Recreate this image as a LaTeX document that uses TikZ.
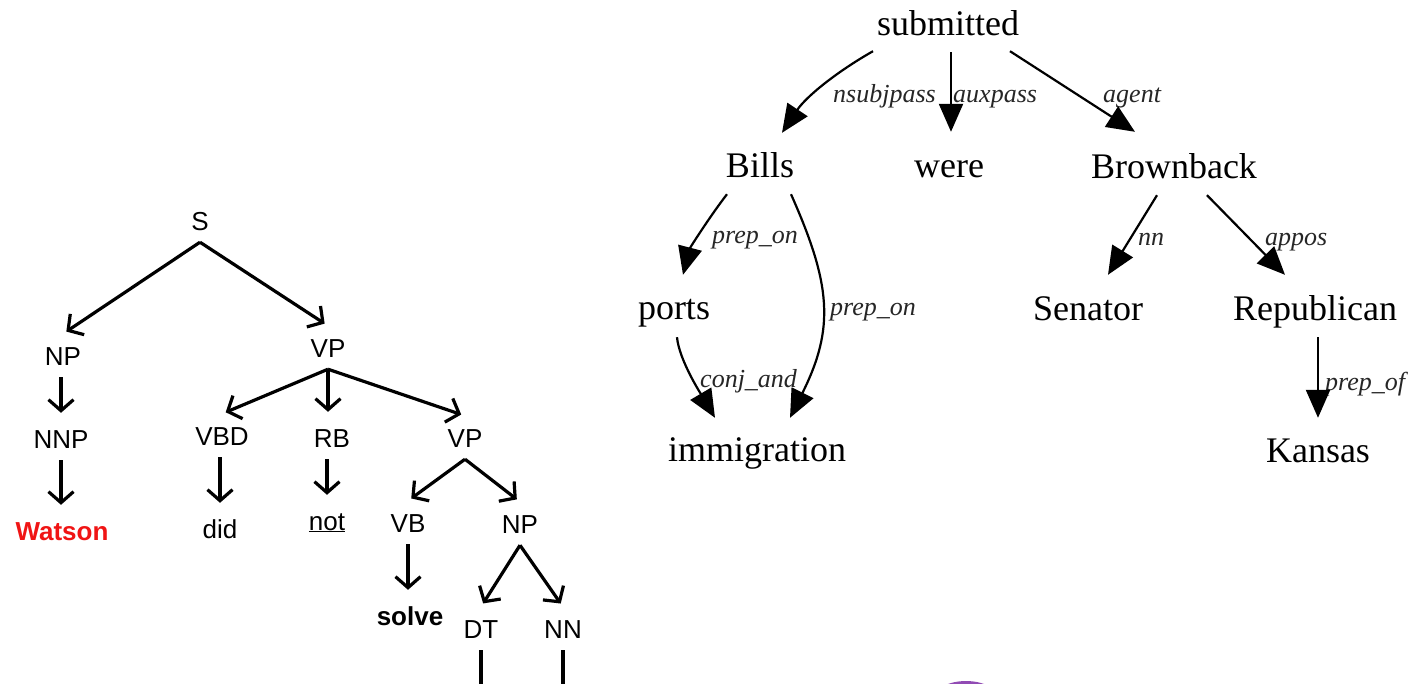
\documentclass[tikz,border=0pt]{standalone}
\usepackage{fontspec}
\usetikzlibrary{arrows.meta,calc}
\newfontfamily\treesans{Liberation Sans}
\newfontfamily\treeserif{Liberation Serif}
\definecolor{watsonred}{RGB}{240,20,20}
\definecolor{blobpurple}{RGB}{145,75,180}

\begin{document}
\begin{tikzpicture}[x=1pt,y=-1pt,
  cat/.style={font=\treesans\fontsize{26}{30}\selectfont, inner xsep=2pt, inner ysep=12pt,
              text height=19pt, text depth=0pt, anchor=base},
  phrase edge/.style={line width=3.2pt, -{Straight Barb[length=11pt,width=25pt]}, shorten >=4pt},
  word/.style={font=\treeserif\fontsize{36}{40}\selectfont, inner xsep=2pt, inner ysep=17pt,
               text height=25pt, text depth=0pt, anchor=base},
  rel/.style={font=\treeserif\itshape\fontsize{26}{30}\selectfont, inner sep=0pt,
              anchor=base west, text=black!85},
  dep edge/.style={line width=2.2pt, -{Triangle[length=28pt,width=24pt]}},
]
\useasboundingbox (0,0) rectangle (1408,683);
\fill[white] (0,0) rectangle (1408,683);
\clip (0,0) rectangle (1408,683);

% ---------- constituency tree ----------
\node[cat] (S)    at (200,230) {S};
\node[cat] (NP)   at (63,365)  {NP};
\node[cat] (VP)   at (328,357) {VP};
\node[cat] (NNP)  at (61,448)  {NNP};
\node[cat] (VBD)  at (222,445) {VBD};
\node[cat] (RB)   at (332,447) {RB};
\node[cat] (VPb)  at (465,447) {VP};
\node[cat, text=watsonred] (watson) at (62,540) {\bfseries Watson};
\node[cat] (did)  at (220,538) {did};
\node[cat] (not)  at (327,530) {\underline{not}};
\node[cat] (VB)   at (408,532) {VB};
\node[cat] (NPb)  at (520,533) {NP};
\node[cat] (solve) at (410,625) {\bfseries solve};
\node[cat] (DT)   at (481,638) {DT};
\node[cat] (NN)   at (563,638) {NN};
\coordinate (below) at (0,700);

\draw[phrase edge] (S.south) -- (NP.north);
\draw[phrase edge] (S.south) -- (VP.north);
\draw[phrase edge] (VP.south) -- (VBD.north);
\draw[phrase edge] (VP.south) -- (VP.south |- RB.north);
\draw[phrase edge] (VP.south) -- (VPb.north);
\draw[phrase edge] (NNP.north |- NP.south) -- (NNP.north);
\draw[phrase edge] (NNP.south) -- (NNP.south |- watson.north);
\draw[phrase edge] (did.north |- VBD.south) -- (did.north);
\draw[phrase edge] (not.north |- RB.south) -- (not.north);
\draw[phrase edge] (VPb.south) -- (VB.north);
\draw[phrase edge] (VPb.south) -- (NPb.north);
\draw[phrase edge] (VB.south) -- (VB.south |- solve.north);
\draw[phrase edge] (NPb.south) -- (DT.north);
\draw[phrase edge] (NPb.south) -- (NN.north);
\draw[line width=3.2pt] (DT.south) -- (DT.south |- below);
\draw[line width=3.2pt] (NN.south) -- (NN.south |- below);

% ---------- dependency graph ----------
\node[word] (submitted)   at (948,35)  {submitted};
\node[word] (bills)       at (760,177) {Bills};
\node[word] (were)        at (949,177) {were};
\node[word] (brownback)   at (1174,178) {Brownback};
\node[word] (ports)       at (674,319) {ports};
\node[word] (senator)     at (1088,320) {Senator};
\node[word] (republican)  at (1315,320) {Republican};
\node[word] (immigration) at (757,461) {immigration};
\node[word] (kansas)      at (1318,462) {Kansas};

\node[rel] (l-nsubjpass) at (833,102) {nsubjpass};
\node[rel] (l-auxpass)   at (953,102) {auxpass};
\node[rel] (l-agent)     at (1103,102) {agent};
\node[rel] (l-prepon-a)  at (712,243) {prep\_on};
\node[rel] (l-prepon-b)  at (830,315) {prep\_on};
\node[rel] (l-conjand)   at (700,387) {conj\_and};
\node[rel] (l-nn)        at (1138,245) {nn};
\node[rel] (l-appos)     at (1265,245) {appos};
\node[rel] (l-prepof)    at (1325,390) {prep\_of};

\draw[dep edge] ($(submitted.south)+(-75,-1)$)
  .. controls ($(submitted.south)+(-112,20)$) and ($(bills.north)+(46,-38)$)
  .. ($(bills.north)+(22,-2)$);
\draw[dep edge] ($(submitted.south)+(3,0)$) -- ($(were.north)+(2,-3)$);
\draw[dep edge] ($(submitted.south)+(62,-1)$) -- ($(brownback.north)+(-39,-4)$);

\draw[dep edge] ($(bills.south)+(-33,0)$)
  .. controls ($(bills.south)+(-50,22)$) and ($(ports.north)+(16,-29)$)
  .. ($(ports.north)+(9,-2)$);
\draw[dep edge] ($(bills.south)+(31,0)$)
  .. controls ($(bills.south)+(71,90)$) and ($(immigration.north)+(78,-91)$)
  .. ($(immigration.north)+(33,-1)$);
\draw[dep edge] ($(ports.south)+(3,1)$)
  .. controls ($(ports.south)+(5,24)$) and ($(immigration.north)+(-55,-23)$)
  .. ($(immigration.north)+(-42,-1)$);

\draw[dep edge] ($(brownback.south)+(-17,0)$) -- ($(senator.north)+(20,-3)$);
\draw[dep edge] ($(brownback.south)+(33,0)$) -- ($(republican.north)+(-30,-3)$);
\draw[dep edge] ($(republican.south)+(3,0)$) -- ($(kansas.north)+(0,-2)$);

% purple shape peeking in at the bottom edge
\fill[blobpurple] (966,706) ellipse [x radius=38, y radius=25];
\end{tikzpicture}
\end{document}
